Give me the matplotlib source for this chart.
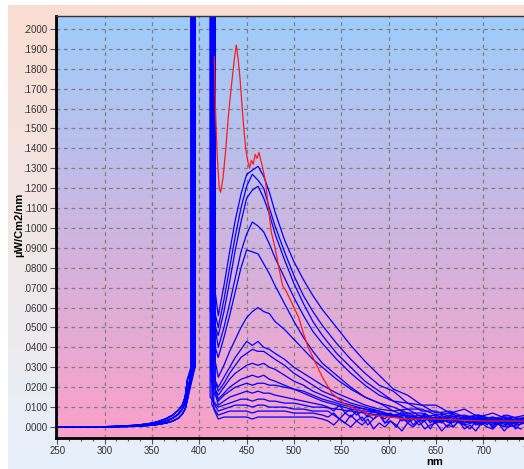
import numpy as np
import matplotlib.pyplot as plt
from matplotlib.ticker import MultipleLocator, FuncFormatter

# wavelength grids (nm)
pre_wl = [250, 285, 310, 330, 345, 355, 365, 372, 378, 382, 385, 387.5]
em_wl = [420, 426, 432, 438, 444, 450, 456, 462, 468, 474, 480, 490, 500, 510, 520,
         530, 545, 560, 575, 590, 605, 620, 635, 650, 665, 680, 695, 710, 725, 745]
tail_wl = list(range(536, 746, 6))

# rising edge below the laser lines
pre_low = [0, 0, 0.0001, 0.0003, 0.0007, 0.0012, 0.002, 0.003, 0.0045, 0.0065, 0.009, 0.014]
pre_mid = [0, 0, 0.0002, 0.0005, 0.0011, 0.0018, 0.003, 0.0045, 0.0065, 0.009, 0.012, 0.018]
pre_high = [0, 0, 0.0003, 0.0008, 0.0015, 0.0025, 0.0042, 0.006, 0.0085, 0.011, 0.015, 0.024]

# laser band edges for each blue trace
rise_nm = [391.3, 393.5, 395.8, 392.1, 394.6, 391.8, 396.1, 392.8,
           395.0, 393.0, 394.1, 391.5, 395.5, 392.5, 393.8, 394.9]
fall_nm = [416.3, 414.0, 411.2, 415.6, 412.6, 416.0, 411.6, 414.6,
           412.1, 415.1, 413.3, 416.5, 411.0, 413.8, 412.9, 414.9]
drop_end = [0.068, 0.062, 0.058, 0.052, 0.046, 0.034, 0.028, 0.026,
            0.023, 0.021, 0.019, 0.017, 0.015, 0.013, 0.011, 0.009]

# emission spectra (uW/cm2/nm) on em_wl
blue_a = [0.056, 0.071, 0.088, 0.104, 0.117, 0.127, 0.129, 0.131, 0.126, 0.118, 0.108, 0.094, 0.083, 0.074, 0.066,
          0.059, 0.050, 0.041, 0.033, 0.026, 0.019, 0.016, 0.011, 0.011, 0.007, 0.009, 0.005, 0.007, 0.004, 0.006]
blue_b = [0.050, 0.064, 0.080, 0.096, 0.110, 0.121, 0.127, 0.124, 0.120, 0.110, 0.101, 0.088, 0.076, 0.066, 0.058,
          0.051, 0.042, 0.034, 0.027, 0.021, 0.018, 0.012, 0.011, 0.007, 0.008, 0.005, 0.006, 0.004, 0.006, 0.003]
blue_c = [0.046, 0.058, 0.073, 0.089, 0.103, 0.115, 0.119, 0.121, 0.115, 0.107, 0.097, 0.084, 0.072, 0.062, 0.053,
          0.046, 0.037, 0.030, 0.023, 0.018, 0.013, 0.012, 0.008, 0.008, 0.005, 0.006, 0.004, 0.005, 0.003, 0.005]
blue_d = [0.040, 0.050, 0.062, 0.075, 0.088, 0.097, 0.103, 0.101, 0.098, 0.092, 0.085, 0.075, 0.065, 0.056, 0.048,
          0.042, 0.034, 0.027, 0.021, 0.016, 0.013, 0.009, 0.009, 0.006, 0.007, 0.004, 0.006, 0.003, 0.005, 0.004]
blue_e = [0.035, 0.045, 0.056, 0.068, 0.080, 0.089, 0.088, 0.087, 0.082, 0.077, 0.071, 0.062, 0.053, 0.045, 0.038,
          0.032, 0.026, 0.020, 0.015, 0.012, 0.010, 0.007, 0.007, 0.004, 0.006, 0.003, 0.005, 0.002, 0.004, 0.003]
blue_f = [0.025, 0.031, 0.038, 0.044, 0.050, 0.055, 0.058, 0.060, 0.058, 0.057, 0.053, 0.049, 0.044, 0.039, 0.034,
          0.030, 0.024, 0.019, 0.015, 0.012, 0.008, 0.009, 0.005, 0.006, 0.003, 0.005, 0.003, 0.004, 0.002, 0.004]
blue_g = [0.020, 0.025, 0.030, 0.035, 0.039, 0.043, 0.041, 0.043, 0.040, 0.039, 0.037, 0.034, 0.030, 0.027, 0.024,
          0.021, 0.017, 0.014, 0.011, 0.009, 0.008, 0.005, 0.006, 0.003, 0.005, 0.002, 0.004, 0.003, 0.002, 0.003]
blue_h = [0.018, 0.022, 0.027, 0.031, 0.035, 0.037, 0.039, 0.038, 0.038, 0.036, 0.034, 0.031, 0.027, 0.024, 0.021,
          0.018, 0.015, 0.012, 0.010, 0.008, 0.005, 0.006, 0.003, 0.005, 0.002, 0.004, 0.001, 0.003, 0.002, 0.003]
blue_i = [0.016, 0.020, 0.024, 0.027, 0.029, 0.031, 0.032, 0.031, 0.032, 0.030, 0.029, 0.026, 0.023, 0.021, 0.018,
          0.016, 0.013, 0.011, 0.009, 0.007, 0.006, 0.003, 0.005, 0.002, 0.004, 0.001, 0.003, 0.002, 0.000, 0.002]
blue_j = [0.014, 0.017, 0.020, 0.022, 0.024, 0.025, 0.026, 0.025, 0.026, 0.024, 0.023, 0.021, 0.019, 0.017, 0.015,
          0.013, 0.011, 0.009, 0.008, 0.007, 0.005, 0.006, 0.003, 0.005, 0.002, 0.004, 0.002, 0.003, 0.001, 0.003]
blue_k = [0.013, 0.016, 0.018, 0.020, 0.021, 0.022, 0.021, 0.022, 0.022, 0.021, 0.021, 0.020, 0.019, 0.018, 0.016,
          0.014, 0.012, 0.010, 0.009, 0.008, 0.006, 0.007, 0.004, 0.005, 0.003, 0.005, 0.002, 0.004, 0.002, 0.003]
blue_l = [0.011, 0.013, 0.015, 0.016, 0.017, 0.018, 0.017, 0.018, 0.017, 0.017, 0.016, 0.015, 0.014, 0.013, 0.012,
          0.011]
blue_m = [0.010, 0.011, 0.012, 0.013, 0.014, 0.014, 0.013, 0.014, 0.014, 0.013, 0.013, 0.012, 0.012, 0.011, 0.010,
          0.010, 0.009, 0.008, 0.007, 0.006, 0.006, 0.004, 0.005, 0.003, 0.004, 0.002, 0.004, 0.001, 0.003, 0.002]
blue_n = [0.008, 0.009, 0.010, 0.011, 0.011, 0.011, 0.010, 0.011, 0.011, 0.010, 0.010, 0.010, 0.009, 0.009, 0.008,
          0.008]
blue_o = [0.006, 0.007, 0.008, 0.008, 0.008, 0.008, 0.007, 0.008, 0.008, 0.008, 0.008, 0.008, 0.007, 0.007, 0.007,
          0.006]
blue_p = [0.004, 0.005, 0.005, 0.005, 0.005, 0.005, 0.004, 0.005, 0.005, 0.005, 0.005, 0.005, 0.005, 0.005, 0.005,
          0.004]

# noisy tails (on tail_wl) for the weakest traces
tail_l = [0.010, 0.008, 0.011, 0.007, 0.009, 0.006, 0.008, 0.005, 0.009, 0.006, 0.004, 0.007, 0.005, 0.008, 0.004,
          0.006, 0.003, 0.007, 0.005, 0.002, 0.006, 0.004, 0.007, 0.003, 0.005, 0.002, 0.006, 0.004, 0.001, 0.005,
          0.003, 0.006, 0.002, 0.004, 0.003]
tail_n = [0.008, 0.006, 0.004, 0.007, 0.005, 0.008, 0.003, 0.006, 0.004, 0.007, 0.002, 0.005, 0.006, 0.003, 0.005,
          0.001, 0.004, 0.006, 0.002, 0.005, 0.003, 0.000, 0.004, 0.006, 0.002, 0.004, 0.001, 0.005, 0.003, 0.000,
          0.004, 0.002, 0.005, 0.001, 0.003]
tail_o = [0.005, 0.007, 0.004, 0.002, 0.006, 0.003, 0.005, 0.001, 0.004, 0.006, 0.002, 0.003, 0.000, 0.005, 0.002,
          0.004, 0.001, 0.003, -0.001, 0.004, 0.002, 0.005, 0.000, 0.003, 0.001, -0.001, 0.003, 0.001, 0.004, -0.001,
          0.002, 0.000, 0.003, -0.001, 0.002]
tail_p = [0.003, 0.001, 0.004, 0.002, 0.000, 0.003, 0.001, 0.004, -0.001, 0.002, 0.000, 0.003, 0.001, -0.002, 0.002,
          0.000, 0.003, -0.001, 0.001, 0.002, -0.002, 0.001, 0.000, 0.003, -0.001, 0.001, -0.002, 0.002, 0.000, -0.001,
          0.002, -0.002, 0.001, 0.000, -0.001]

blue_curves = [blue_a, blue_b, blue_c, blue_d, blue_e, blue_f, blue_g, blue_h,
               blue_i, blue_j, blue_k, blue_l, blue_m, blue_n, blue_o, blue_p]
blue_tails = [None, None, None, None, None, None, None, None,
              None, None, None, tail_l, None, tail_n, tail_o, tail_p]
pre_curves = [pre_high, pre_mid, pre_low, pre_high, pre_mid, pre_low, pre_high, pre_mid,
              pre_low, pre_high, pre_mid, pre_low, pre_high, pre_mid, pre_low, pre_mid]

# red trace
red_wl = [415.8, 417, 419, 421, 422.5, 425, 428, 431, 434, 437, 439, 441, 443, 445, 447, 449, 451, 453,
          455, 457, 459, 461, 463, 465, 467, 470, 473, 476, 480, 484, 488, 492, 496, 500, 505, 510,
          515, 520, 525, 530, 535, 540, 545, 550, 555, 560, 570, 580, 600, 620, 650, 700, 745]
red_val = [0.186, 0.160, 0.135, 0.120, 0.118, 0.125, 0.140, 0.158, 0.172, 0.185, 0.192, 0.185, 0.175,
           0.162, 0.150, 0.140, 0.134, 0.130, 0.134, 0.132, 0.137, 0.135, 0.138, 0.134, 0.130, 0.123,
           0.110, 0.098, 0.090, 0.080, 0.071, 0.068, 0.064, 0.060, 0.055, 0.047, 0.040, 0.035, 0.030,
           0.025, 0.021, 0.017, 0.015, 0.013, 0.011, 0.010, 0.0085, 0.006, 0.005, 0.004, 0.004, 0.003, 0.003]

LASER_TOP = 40.0
W, H = 524, 469

fig = plt.figure(figsize=(W / 100, H / 100), dpi=100)
fig.patch.set_facecolor('white')

# panel gradient behind everything
bg = fig.add_axes([0, 0, 1, 1], zorder=-10)
bg.set_xlim(0, W)
bg.set_ylim(H, 0)
bg.axis('off')
top_c = np.array([250, 221, 210]) / 255
bot_c = np.array([231, 240, 251]) / 255
t = np.linspace(0, 1, 256)[:, None]
grad = top_c[None, :] * (1 - t) + bot_c[None, :] * t
bg.imshow(grad[:, None, :], extent=[8, W, H, 5], aspect='auto', interpolation='bilinear')

# axes run past the right edge of the picture, as in the original
x0, x1 = 56, 545
y0, y1 = 16, 438
ax = fig.add_axes([x0 / W, 1 - y1 / H, (x1 - x0) / W, (y1 - y0) / H])
ax.set_facecolor('none')
xmin = 248.6
xmax = xmin + (x1 - x0) / 0.9467
ymin, ymax = -0.00553, 0.20653
ax.set_xlim(xmin, xmax)
ax.set_ylim(ymin, ymax)

# plot-area gradient
pa_top = np.array([158, 205, 251]) / 255
pa_bot = np.array([251, 160, 200]) / 255
grad2 = pa_top[None, :] * (1 - t) + pa_bot[None, :] * t
ax.imshow(grad2[:, None, :], extent=[xmin, xmax, ymin, ymax], aspect='auto',
          interpolation='bilinear', zorder=0, origin='upper')

ax.grid(True, which='major', color='#7f7f7f', linestyle=(0, (3, 3)), linewidth=0.9, zorder=1)

for vals, tail, pre, r, f, d in zip(blue_curves, blue_tails, pre_curves, rise_nm, fall_nm, drop_end):
    xs = pre_wl + [r - 0.3, r, f, f + 0.4] + em_wl[:len(vals)]
    ys = pre + [0.03, LASER_TOP, LASER_TOP, d] + vals
    if tail is not None:
        xs = xs + tail_wl
        ys = ys + tail
    ax.plot(xs, ys, color='#0000ff', linewidth=0.9, zorder=2)

ax.plot(red_wl, red_val, color='#ff1a1a', linewidth=0.9, zorder=3)

ax.xaxis.set_major_locator(MultipleLocator(50))
ax.xaxis.set_minor_locator(MultipleLocator(12.5))
ax.yaxis.set_major_locator(MultipleLocator(0.01))
ax.yaxis.set_major_formatter(FuncFormatter(lambda v, p: f"{abs(v):.4f}"[1:]))

ax.tick_params(axis='both', which='major', direction='out', length=4, width=0.8,
               color='#555555', labelsize=7, labelcolor='#333333', pad=2)
ax.tick_params(axis='x', which='minor', direction='out', length=2.5, width=0.8, color='#555555')
for lab in ax.get_xticklabels() + ax.get_yticklabels():
    lab.set_fontfamily('Liberation Sans')

ax.spines['right'].set_visible(False)
ax.spines['left'].set_linewidth(2)
ax.spines['bottom'].set_linewidth(2)
ax.spines['top'].set_linewidth(1)
ax.spines['top'].set_color('#333333')

fig.text(19 / W, 1 - 225 / H, 'µW/Cm2/nm', rotation=90, ha='center', va='center',
         fontsize=8, fontweight='bold', family='Liberation Sans')
fig.text(435 / W, 1 - 462 / H, 'nm', ha='center', va='center',
         fontsize=8, fontweight='bold', family='Liberation Sans')

fig.savefig('out.png', dpi=100)
